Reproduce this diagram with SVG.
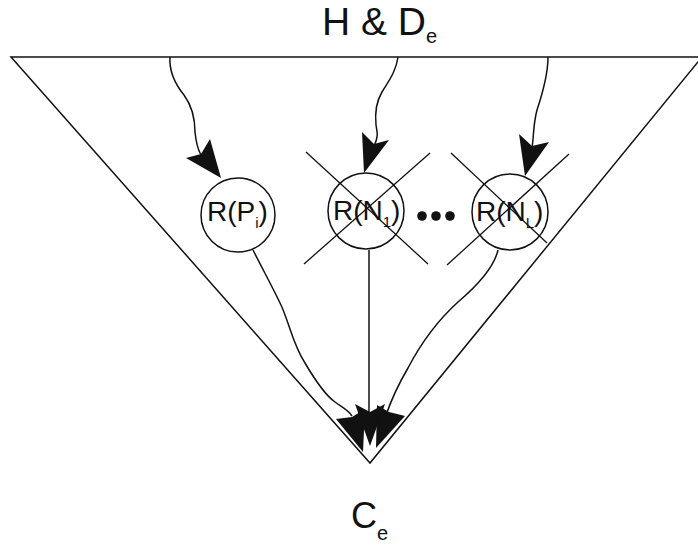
<svg xmlns="http://www.w3.org/2000/svg" width="698" height="547" viewBox="0 0 698 547">
  <style>
    .edge { fill: none; stroke: #111; stroke-width: 1.5; }
    .node { fill: #fff; stroke: #111; stroke-width: 1.5; }
    .cross { stroke: #111; stroke-width: 1.3; }
    .head { fill: #111; stroke: none; }
    .lbl { font-family: "Liberation Sans", Arial, sans-serif; fill: #111; }
  </style>

  <!-- outer triangle -->
  <polygon id="frame" points="11,57 702,57 370,463" fill="none" stroke="#111" stroke-width="1.5"/>

  <!-- title and sink labels -->
  <text class="lbl" x="322" y="35" font-size="39">H &amp; D<tspan font-size="20" dy="8">e</tspan></text>
  <text class="lbl" x="351" y="528" font-size="36">C<tspan font-size="20" dy="12">e</tspan></text>

  <!-- connectors -->
  <g id="connectors">
    <path class="edge" d="M170,57 C169,72 175,84 184,95 C192,106 195,118 195,132 C196,142 197,148 201,155"/>
    <path class="edge" d="M398,57 C396,72 388,82 382,92 C376,102 375,115 376,125 C377,132 379,136 374,146"/>
    <path class="edge" d="M548,57 C548,75 542,95 537,110 C533,125 534,135 532,148"/>
    <path class="edge" d="M253,250 C262,268 273,288 281,305 C290,325 293,345 305,363 C315,380 325,395 335,402 C343,408 348,410 352,416"/>
    <path class="edge" d="M369,250 L369,412"/>
    <path class="edge" d="M498,250 C494,268 478,285 458,302 C436,322 420,345 408,368 C398,385 392,398 386,415"/>

    <!-- arrowheads into the circles -->
    <polygon class="head" points="221,178 186,158 201,154 210,139"/>
    <polygon class="head" points="364,173 362,132 374,144 389,140"/>
    <polygon class="head" points="525,176 519,134 532,146 549,142"/>

    <!-- arrowheads meeting at the sink -->
    <polygon class="head" points="363,452 336,419 352,417 365,409"/>
    <polygon class="head" points="370,446 355,404 370,412 385,404"/>
    <polygon class="head" points="376,448 377,405 389,412 405,416"/>
  </g>

  <!-- node R(P_i) -->
  <g id="node-rpi">
    <circle class="node" cx="238" cy="215" r="37"/>
    <text class="lbl" x="207" y="221" font-size="28">R(P<tspan font-size="15" dy="7">i</tspan><tspan dy="-7">)</tspan></text>
  </g>

  <!-- node R(N_1), struck out -->
  <g id="node-rn1">
    <circle class="node" cx="366" cy="211" r="38"/>
    <text class="lbl" x="333" y="220" font-size="28">R(N<tspan font-size="15" dy="7">1</tspan><tspan dy="-7">)</tspan></text>
    <line class="cross" x1="306" y1="152" x2="428" y2="264"/>
    <line class="cross" x1="430" y1="153" x2="304" y2="264"/>
  </g>

  <!-- ellipsis between struck nodes -->
  <g id="ellipsis" fill="#111">
    <circle cx="422" cy="216" r="4.8"/>
    <circle cx="436" cy="216" r="4.8"/>
    <circle cx="450" cy="216" r="4.8"/>
  </g>

  <!-- node R(N_L), struck out -->
  <g id="node-rnl">
    <circle class="node" cx="510" cy="212" r="38"/>
    <text class="lbl" x="476" y="221" font-size="28">R(N<tspan font-size="15" dy="7">L</tspan><tspan dy="-7">)</tspan></text>
    <line class="cross" x1="451" y1="153" x2="547" y2="243"/>
    <line class="cross" x1="569" y1="154" x2="447" y2="265"/>
  </g>
</svg>
